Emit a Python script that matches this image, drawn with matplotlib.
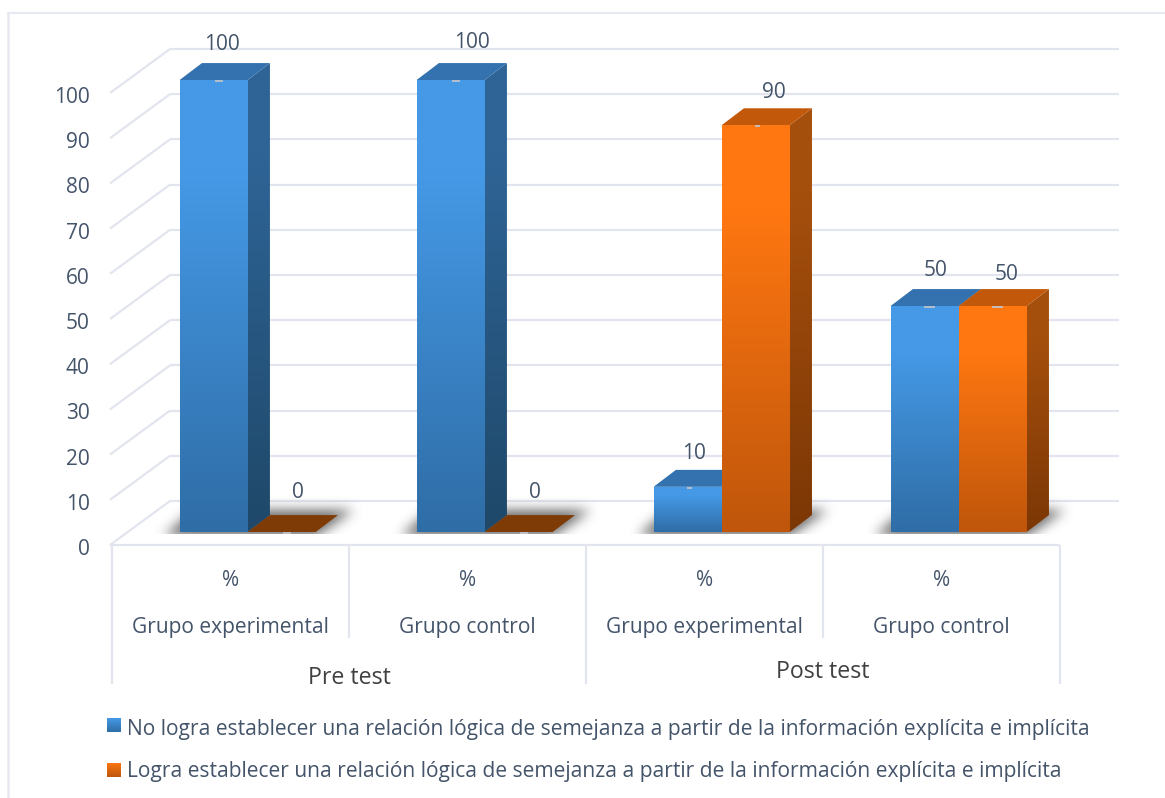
import numpy as np
import matplotlib
matplotlib.use("Agg")
import matplotlib.pyplot as plt
from matplotlib.patches import Polygon
from matplotlib.path import Path
from matplotlib.lines import Line2D
from matplotlib.colors import to_rgb
from matplotlib.transforms import ScaledTranslation

plt.rcParams['font.family'] = ['Open Sans', 'DejaVu Sans']

# ---- data -------------------------------------------------------------
phases = ["Pre test", "Post test"]
groups = ["Grupo experimental", "Grupo control", "Grupo experimental", "Grupo control"]
units = ["%", "%", "%", "%"]
no_logra = [100, 100, 10, 50]
logra = [0, 0, 90, 50]
y_ticks = [0, 10, 20, 30, 40, 50, 60, 70, 80, 90, 100]
legend_labels = [
    "No logra establecer una relación lógica de semejanza a partir de la información explícita e implícita",
    "Logra establecer una relación lógica de semejanza a partir de la información explícita e implícita",
]

# ---- geometry and style ------------------------------------------------
W, H = 1165, 798
X0, X1, Y0, Y100 = 112, 1060, 545, 93     # front plane of the floor, in pixels
DEPTH_X, DEPTH_Y = 58, 44                 # wall offset from the front plane, in pixels
BAR_W = 0.287
D_FRONT, D_BACK = 0.295, 0.68             # bar front/back depth as a share of the floor
GRID = "#E2E5ED"
TEXT = "#44546A"
DARK_TEXT = "#404040"
BLUE = dict(front=("#4599E6", "#2F6DA6"), side=("#2E6496", "#1F4869"), top="#3372AE")
ORANGE = dict(front=("#FF7711", "#BF560B"), side=("#A54F0D", "#7C3705"), top="#C2590A", flat="#7F3B05")
# label offsets from the top-centre of each bar front, in pixels
LABEL_OFF_BLUE = [(8, 36), (21, 38), (6, 33), (11, 36)]
LABEL_OFF_ORANGE = [(16, 40), (16, 40), (18, 33), (14, 32)]
TICK_OFF = [(5, 8), (5, 8), (2, 5), (5, 11)]

fig = plt.figure(figsize=(W / 100, H / 100), dpi=100)
fig.patch.set_facecolor("white")
ax = fig.add_axes([X0 / W, 1 - Y0 / H, (X1 - X0) / W, (Y0 - Y100) / H])
ax.set_xlim(0, 4)
ax.set_ylim(0, 100)
ax.patch.set_visible(False)
for s in ax.spines.values():
    s.set_visible(False)

PX = 4.0 / (X1 - X0)
PY = 100.0 / (Y0 - Y100)
DX, DY = DEPTH_X * PX, DEPTH_Y * PY


def px(x, y):
    """Pixel position to data coordinates."""
    return (x - X0) * PX, (Y0 - y) * PY


def proj(x, y, d):
    """Oblique projection of a point at depth d onto the picture plane."""
    return x + d * DX, y + d * DY


def gradient_patch(verts, top_c, bot_c, y_top, y_bot, z):
    """Fill a polygon with a vertical colour ramp, flat over the top fifth."""
    poly = Polygon(verts, closed=True, transform=ax.transData, fc="none", ec="none")
    ax.add_patch(poly)
    t = np.linspace(0, 1, 128)
    f = np.clip((t - 0.2) / 0.8, 0, 1)[:, None]
    img = (1 - f) * np.array(to_rgb(top_c)) + f * np.array(to_rgb(bot_c))
    xs = [v[0] for v in verts]
    im = ax.imshow(img[:, None, :], extent=(min(xs), max(xs), y_bot, y_top),
                   aspect="auto", origin="upper", zorder=z, interpolation="bilinear")
    im.set_clip_box(fig.bbox)
    im.set_clip_path(poly)


def draw_bar(x_left, value, style, z):
    x_right = x_left + BAR_W
    fl, fb = proj(x_left, 0, D_FRONT)
    fr, _ = proj(x_right, 0, D_FRONT)
    ft = fb + value
    bl, bb = proj(x_left, 0, D_BACK)
    br, _ = proj(x_right, 0, D_BACK)
    bt = bb + value
    if value > 0:
        gradient_patch([(fr, fb), (br, bb), (br, bt), (fr, ft)],
                       style["side"][0], style["side"][1], bt, fb, z)
        top_color = style["top"]
    else:
        top_color = style["flat"]
    ax.add_patch(Polygon([(fl, ft), (fr, ft), (br, bt), (bl, bt)], closed=True,
                         fc=top_color, ec="none", zorder=z + 0.1, clip_on=False))
    if value > 0:
        gradient_patch([(fl, fb), (fr, fb), (fr, ft), (fl, ft)],
                       style["front"][0], style["front"][1], ft, fb, z + 0.2)
    return fl, fr, ft


def blur(a, sigma):
    r = int(3 * sigma)
    k = np.exp(-0.5 * (np.arange(-r, r + 1) / sigma) ** 2)
    k /= k.sum()
    a = np.apply_along_axis(lambda m: np.convolve(m, k, mode="same"), 0, a)
    return np.apply_along_axis(lambda m: np.convolve(m, k, mode="same"), 1, a)


def draw_shadow(x_left, x_right):
    """Soft shadow cast on the floor around one bar pair, rasterised per pixel."""
    front_y = proj(0, 0, D_FRONT)[1]
    base_l = proj(x_left, 0, D_FRONT)[0]
    base_r = proj(x_right, 0, D_FRONT)[0]
    w = int((base_r - base_l) / PX) + 120
    h = 60
    # local raster: one cell per pixel, origin at the lower left
    yy, xx = np.mgrid[0:h, 0:w]
    ox, oy = 40, 10
    bw = (base_r - base_l) / PX
    outline = [(ox - 16, oy - 4), (ox + bw, oy - 4), (ox + bw + 38, oy + 22), (ox + 14, oy + 22)]
    pts = np.column_stack([xx.ravel() + 0.5, yy.ravel() + 0.5])
    mask = Path(outline).contains_points(pts).reshape(h, w).astype(float)
    alpha = blur(mask, 6.0)
    alpha[:oy - 2, :] = 0
    alpha = np.clip(alpha * 0.8, 0, 1)
    rgba = np.zeros((h, w, 4))
    rgba[..., :3] = to_rgb("#444444")
    rgba[..., 3] = alpha
    left = base_l - ox * PX
    bottom = front_y - oy * PY
    im = ax.imshow(rgba, origin="lower", aspect="auto", zorder=1.5,
                   extent=(left, left + w * PX, bottom, bottom + h * PY))
    im.set_clip_box(fig.bbox)


# ---- floor, walls, gridlines -------------------------------------------
line_kw = dict(color=GRID, lw=1.6, solid_capstyle="butt", clip_on=False)
for v in y_ticks:
    x_back, y_back = proj(0, v, 1)
    x_front = -2 * PX
    ax.plot([x_front, x_back], [v, y_back], zorder=1, **line_kw)
    ax.plot([x_back, px(1119, 0)[0]], [y_back, y_back], zorder=1, **line_kw)

ax.set_yticks(y_ticks)
ax.set_yticklabels([str(v) for v in y_ticks], fontsize=15, color=TEXT)
ax.tick_params(axis="y", length=0, pad=16)
nudge = ScaledTranslation(0, -1.5 / 72, fig.dpi_scale_trans)
for lab in ax.get_yticklabels():
    lab.set_transform(lab.get_transform() + nudge)
ax.set_xticks([])

# axis frame under the plot
ax.plot([-2 * PX, 4], [0, 0], zorder=1, **line_kw)
for i in range(5):
    bottom = 684 if i % 2 == 0 else 638
    ax.plot([i, i], [0, px(0, bottom)[1]], zorder=1, **line_kw)

# ---- bars --------------------------------------------------------------
for i, (a, b) in enumerate(zip(no_logra, logra)):
    cx = i + 0.5
    draw_shadow(cx - BAR_W, cx + BAR_W)
    fl_a, fr_a, top_a = draw_bar(cx - BAR_W, a, BLUE, 2 + i)
    fl_b, fr_b, top_b = draw_bar(cx, b, ORANGE, 2.4 + i)

    for (l, r, t, off, z, val) in ((fl_a, fr_a, top_a, LABEL_OFF_BLUE[i], 2.3 + i, a),
                                   (fl_b, fr_b, top_b, LABEL_OFF_ORANGE[i], 2.7 + i, b)):
        mid = (l + r) / 2
        ax.plot([mid + TICK_OFF[i][0] * PX - TICK_OFF[i][1] / 2 * PX,
                 mid + TICK_OFF[i][0] * PX + TICK_OFF[i][1] / 2 * PX],
                [t - 0.2, t - 0.2], color="#BFC3CA", lw=1.3, zorder=z + 0.1,
                solid_capstyle="butt", clip_on=False)
        ax.annotate(str(val), (mid, t), xytext=(off[0] * 0.72, off[1] * 0.72),
                    textcoords="offset points", ha="center", va="center",
                    fontsize=15, color=TEXT, zorder=20, annotation_clip=False)

# ---- category labels ---------------------------------------------------
for i in range(4):
    ax.text(i + 0.5, px(0, 580)[1], units[i], ha="center", va="center",
            fontsize=15, color=TEXT, clip_on=False)
    ax.text(i + 0.5, px(0, 627)[1], groups[i], ha="center", va="center",
            fontsize=15.15, color=TEXT, clip_on=False)
ax.text(1, px(0, 678)[1], phases[0], ha="center", va="center", fontsize=16.7,
        color=DARK_TEXT, clip_on=False)
ax.text(3, px(0, 672)[1], phases[1], ha="center", va="center", fontsize=16.7,
        color=DARK_TEXT, clip_on=False)


# ---- legend and outer frame --------------------------------------------
def fx(x):
    return x / W


def fy(y):
    return 1 - y / H


for label, y_sw, y_txt, style in ((legend_labels[0], 725, 729, BLUE),
                                  (legend_labels[1], 770, 771, ORANGE)):
    t = np.linspace(0, 1, 32)[:, None]
    ramp = (1 - t) * np.array(to_rgb(style["front"][0])) + t * np.array(to_rgb(style["front"][1]))
    sw = fig.add_axes([fx(107), fy(y_sw + 7), 14 / W, 14 / H])
    sw.imshow(ramp[:, None, :], aspect="auto")
    sw.axis("off")
    fig.text(fx(127), fy(y_txt), label, ha="left", va="center", fontsize=15.1, color=TEXT)

fig.add_artist(Line2D([fx(8), fx(8)], [fy(13), 0], color="#E6E9F1", lw=1.8))
fig.add_artist(Line2D([fx(8), 1], [fy(13), fy(13)], color="#E6E9F1", lw=1.5))

fig.savefig("out.png", dpi=100)
